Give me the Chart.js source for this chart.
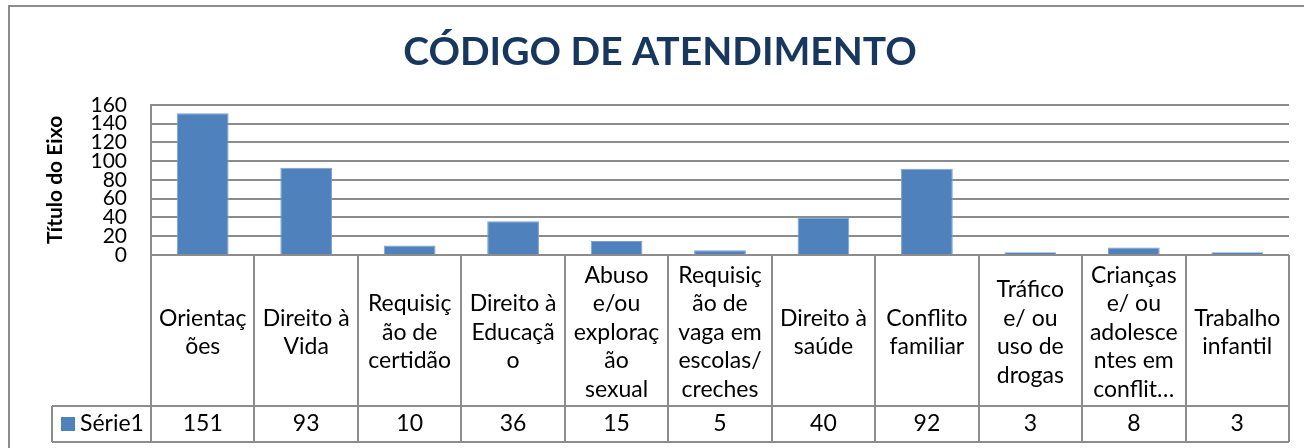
<!DOCTYPE html>
<html>
<head>
<meta charset="utf-8">
<script src="https://cdn.jsdelivr.net/npm/chart.js@4.4.1/dist/chart.umd.min.js"></script>
<style>
  body { margin: 0; background: #ffffff; }
  #atendimentoChart { display: block; }
</style>
</head>
<body>
<canvas id="atendimentoChart" width="1304" height="448"></canvas>
<script>
// categorias, quebradas em linhas como na tabela do Excel
const categorias = [
  ["Orientaç", "ões"],
  ["Direito à", "Vida"],
  ["Requisiç", "ão de", "certidão"],
  ["Direito à", "Educaçã", "o"],
  ["Abuso", "e/ou", "exploraç", "ão", "sexual"],
  ["Requisiç", "ão de", "vaga em", "escolas/", "creches"],
  ["Direito à", "saúde"],
  ["Conflito", "familiar"],
  ["Tráfico", "e/ ou", "uso de", "drogas"],
  ["Crianças", "e/ ou", "adolesce", "ntes em", "conflit…"],
  ["Trabalho", "infantil"]
];
const serie1 = [151, 93, 10, 36, 15, 5, 40, 92, 3, 8, 3];
const nomeSerie = "Série1";
const yTicks = [0, 20, 40, 60, 80, 100, 120, 140, 160];

const azul = '#4F81BD';
const cinza = '#8c8c8c';
const fonte = 'Lato, "Open Sans", sans-serif';

// moldura externa + tabela de dados embaixo do grafico
const tabelaPlugin = {
  id: 'tabela',
  beforeDraw(chart) {
    const ctx = chart.ctx;
    ctx.save();
    ctx.strokeStyle = cinza;
    ctx.lineWidth = 2;
    ctx.beginPath();
    ctx.moveTo(9, chart.height);
    ctx.lineTo(9, 6);
    ctx.lineTo(chart.width, 6);
    ctx.stroke();
    ctx.restore();
  },
  afterDraw(chart) {
    const ctx = chart.ctx;
    const a = chart.chartArea;
    const xs = chart.scales.x;
    const n = categorias.length;
    const w = (a.right - a.left) / n;
    const labelBottom = a.bottom + 151;
    const valueBottom = labelBottom + 36;
    const legendLeft = 52;

    ctx.save();
    ctx.strokeStyle = cinza;
    ctx.lineWidth = 2;
    ctx.beginPath();
    // horizontais
    ctx.moveTo(a.left, a.bottom); ctx.lineTo(a.right, a.bottom);
    ctx.moveTo(legendLeft, labelBottom); ctx.lineTo(a.right, labelBottom);
    ctx.moveTo(legendLeft, valueBottom); ctx.lineTo(a.right, valueBottom);
    // verticais
    for (let i = 0; i <= n; i++) {
      const x = Math.round(a.left + i * w);
      ctx.moveTo(x, a.bottom); ctx.lineTo(x, valueBottom);
    }
    ctx.moveTo(legendLeft, labelBottom); ctx.lineTo(legendLeft, valueBottom);
    ctx.stroke();

    ctx.fillStyle = '#000000';
    ctx.font = '23px ' + fonte;
    ctx.textAlign = 'center';
    ctx.textBaseline = 'middle';
    const lh = 28.5;
    const midLabel = (a.bottom + labelBottom) / 2 + 2;
    const midValue = (labelBottom + valueBottom) / 2;
    for (let i = 0; i < n; i++) {
      const cx = xs.getPixelForValue(i);
      const lines = categorias[i];
      const y0 = midLabel - (lines.length - 1) * lh / 2;
      lines.forEach((t, j) => ctx.fillText(t, cx, y0 + j * lh));
      ctx.fillText(String(serie1[i]), cx, midValue);
    }

    // chave da legenda
    ctx.fillStyle = azul;
    ctx.fillRect(61, midValue - 7, 14, 14);
    ctx.fillStyle = '#000000';
    ctx.textAlign = 'left';
    ctx.fillText(nomeSerie, 80, midValue);
    ctx.restore();
  }
};

const atendimentoData = {
  labels: categorias,
  datasets: [{
    label: nomeSerie,
    data: serie1,
    backgroundColor: azul,
    borderColor: '#7aa0cf',
    borderWidth: 1,
    barPercentage: 0.5,
    categoryPercentage: 1.0
  }]
};

const atendimentoConfig = {
  type: 'bar',
  data: atendimentoData,
  options: {
    responsive: false,
    devicePixelRatio: 1,
    animation: false,
    layout: {
      padding: { left: 31, right: 15, top: 6, bottom: 193 }
    },
    plugins: {
      legend: { display: false },
      tooltip: { enabled: false },
      title: {
        display: true,
        text: 'CÓDIGO DE ATENDIMENTO',
        color: '#17375E',
        font: { family: fonte, size: 39, weight: 'bold', lineHeight: 1.2 },
        padding: { top: 23, bottom: 29 }
      }
    },
    scales: {
      x: {
        display: false
      },
      y: {
        min: 0,
        max: 160,
        afterFit: (s) => { s.width = 120; },
        afterBuildTicks: (s) => { s.ticks = yTicks.map(v => ({ value: v })); },
        ticks: {
          color: '#000000',
          padding: 24,
          autoSkip: false,
          font: { family: fonte, size: 21 }
        },
        grid: {
          color: cinza,
          lineWidth: 2,
          drawTicks: false
        },
        border: { color: cinza, width: 2 },
        title: {
          display: true,
          text: 'Título do Eixo',
          color: '#000000',
          font: { family: fonte, size: 21, weight: 'bold' },
          padding: { top: 12, bottom: 0 }
        }
      }
    }
  },
  plugins: [tabelaPlugin]
};

const atendimentoChart = new Chart(document.getElementById('atendimentoChart'), atendimentoConfig);
</script>
</body>
</html>
